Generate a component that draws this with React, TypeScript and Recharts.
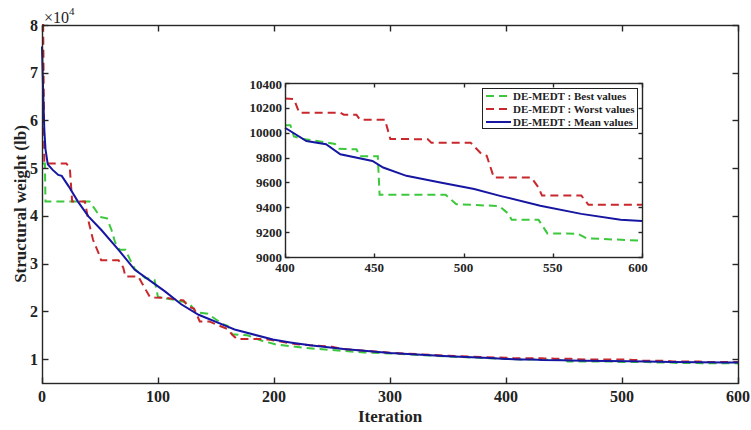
import { LineChart, Line, XAxis, YAxis, Legend } from 'recharts';

// iteration / structural weight (lb) pairs
const bestRows = [
  [0, 51000], [2.5, 51000], [3, 43000], [41, 43000], [46, 41300], [50, 39800], [56, 39500],
  [60, 37000], [63, 34500], [67, 32900], [72, 32900], [76, 30800], [80, 28900], [89, 27000],
  [97, 26600], [100, 23000], [115, 22400], [127, 21700], [133, 19800], [143, 19500],
  [156, 17300], [160, 17000], [164, 15200], [177, 15000], [189, 13900], [201, 13100],
  [225, 12400], [250, 11900], [278, 11400], [300, 11200], [350, 10550],
  [400, 10060], [403, 10060], [405, 9970], [410, 9950], [428, 9910], [430, 9870], [440, 9867],
  [442, 9810], [452, 9810], [453, 9500], [490, 9500], [496, 9425], [520, 9410], [525, 9350],
  [527, 9300], [542, 9300], [547, 9190], [564, 9187], [569, 9150], [598, 9133], [600, 9110],
];

const worstRows = [
  [0, 80000], [1, 80000], [2, 51000], [21, 51000], [24, 50000], [26, 43000], [37, 43000],
  [40, 39000], [44, 35000], [50, 31500], [51, 30700], [66, 30700], [70, 29200], [72, 27300],
  [83, 27300], [86, 26000], [93, 23000], [97, 22900], [108, 22800], [122, 22300], [126, 21000],
  [131, 20600], [134, 19000], [136, 17900], [144, 17900], [160, 16300], [164, 15100],
  [168, 14200], [188, 14200], [195, 14100], [220, 13100], [244, 12700], [250, 12600],
  [260, 12100], [300, 11350], [350, 10700],
  [400, 10275], [405, 10270], [408, 10160], [431, 10160], [433, 10145], [440, 10145],
  [442, 10105], [456, 10105], [459, 9950], [480, 9947], [482, 9920], [504, 9920], [510, 9830],
  [513, 9815], [517, 9640], [538, 9640], [542, 9560], [544, 9494], [566, 9494], [570, 9420],
  [600, 9420],
];

const meanRows = [
  [0, 75500], [1, 66000], [2, 58000], [3, 54000], [5, 50800], [9, 49700], [14, 48600],
  [17, 48400], [23, 46200], [31, 43000], [40, 39900], [51, 37100], [66, 32900], [80, 28700],
  [94, 26300], [106, 24200], [120, 21500], [135, 19300], [159, 16900], [166, 16200],
  [199, 14100], [214, 13500], [231, 12900], [260, 12100], [300, 11300], [350, 10600],
  [386, 10250], [400, 10040], [412, 9933], [423, 9907], [431, 9827], [449, 9773], [455, 9720],
  [468, 9653], [487, 9600], [506, 9547], [521, 9490], [543, 9413], [566, 9347], [588, 9300],
  [600, 9290],
];

const mainXTicks = [0, 100, 200, 300, 400, 500, 600];
const mainYTicks = [10000, 20000, 30000, 40000, 50000, 60000, 70000, 80000];
const insetXTicks = [400, 450, 500, 550, 600];
const insetYTicks = [9000, 9200, 9400, 9600, 9800, 10000, 10200, 10400];

const seriesNames = ['DE-MEDT : Best values', 'DE-MEDT : Worst values', 'DE-MEDT : Mean values'];

const toPoints = (rows: number[][]) => rows.map(([it, w]) => ({ it, w }));
const best = toPoints(bestRows);
const worst = toPoints(worstRows);
const mean = toPoints(meanRows);

const FONT = "'Liberation Serif', 'Times New Roman', serif";
const AXIS = '#262626';
const GREEN = '#3cc83c';
const RED = '#c8282c';
const BLUE = '#1616a2';
const DASH = '8 5';

const series = [
  { name: seriesNames[0], data: best, color: GREEN, dash: DASH },
  { name: seriesNames[1], data: worst, color: RED, dash: DASH },
  { name: seriesNames[2], data: mean, color: BLUE, dash: undefined },
];

const none = () => null;

const makeTick =
  (dx: number, dy: number, anchor: 'start' | 'middle' | 'end', size: number, fmt = (v: number) => String(v)) =>
  (p: any) => (
    <text x={p.x + dx} y={p.y + dy} textAnchor={anchor} fontFamily={FONT} fontSize={size} fontWeight={700} fill="#222">
      {fmt(p.payload.value)}
    </text>
  );

// tick text is placed relative to the axis edge (tickSize 0, tickMargin 0)
const mainXTick = makeTick(0, 19, 'middle', 16);
const mainYTick = makeTick(-4, 5.5, 'end', 16, (v) => String(v / 10000));
const insetXTick = makeTick(0, 15, 'middle', 13);
const insetYTick = makeTick(-3, 4.5, 'end', 13);

// box with inward tick marks, laid over a plot area (snapped to the pixel grid)
function PlotFrame({
  left, top, width, height, xDomain, yDomain, xTicks, yTicks, tick,
}: {
  left: number; top: number; width: number; height: number;
  xDomain: number[]; yDomain: number[]; xTicks: number[]; yTicks: number[]; tick: number;
}) {
  const px = (v: number) => Math.round(v) + 0.5;
  const sx = (v: number) => px(left + ((v - xDomain[0]) / (xDomain[1] - xDomain[0])) * width);
  const sy = (v: number) => px(top + height - ((v - yDomain[0]) / (yDomain[1] - yDomain[0])) * height);
  const l = px(left);
  const t = px(top);
  const r = px(left + width);
  const b = px(top + height);
  return (
    <svg
      width={left + width + 3}
      height={top + height + 3}
      style={{ position: 'absolute', left: 0, top: 0, pointerEvents: 'none' }}
    >
      <g stroke={AXIS} strokeWidth={1.4} fill="none">
        <rect x={l} y={t} width={r - l} height={b - t} />
        {xTicks.map((v) => (
          <g key={`x${v}`}>
            <line x1={sx(v)} y1={b} x2={sx(v)} y2={b - tick} />
            <line x1={sx(v)} y1={t} x2={sx(v)} y2={t + tick} />
          </g>
        ))}
        {yTicks.map((v) => (
          <g key={`y${v}`}>
            <line x1={l} y1={sy(v)} x2={l + tick} y2={sy(v)} />
            <line x1={r} y1={sy(v)} x2={r - tick} y2={sy(v)} />
          </g>
        ))}
      </g>
    </svg>
  );
}

const yTitle = () => (
  <text
    x={20}
    y={204}
    transform="rotate(-90 20 204)"
    textAnchor="middle"
    dominantBaseline="central"
    fontFamily={FONT}
    fontSize={17}
    fontWeight={700}
    fill="#222"
  >
    Structural weight (lb)
  </text>
);

const exponent = () => (
  <text x={44} y={23} fontFamily={FONT} fontSize={16} fill="#222">
    ×10
    <tspan dy={-8} fontSize={11}>
      4
    </tspan>
  </text>
);

const insetLegend = () => (
  <div
    style={{
      border: '1px solid #222',
      background: '#fff',
      padding: '0 2px',
      fontFamily: FONT,
      fontSize: 11,
      fontWeight: 700,
      color: '#222',
      boxSizing: 'border-box',
    }}
  >
    {series.map((s) => (
      <div key={s.name} style={{ display: 'flex', alignItems: 'center', height: 13, whiteSpace: 'nowrap' }}>
        <svg width={27} height={6} style={{ marginRight: 1 }}>
          <line x1={1} y1={3} x2={26} y2={3} stroke={s.color} strokeWidth={2} strokeDasharray={s.dash} />
        </svg>
        <span>{s.name}</span>
      </div>
    ))}
  </div>
);

export default function App() {
  return (
    <div style={{ position: 'absolute', left: 0, top: 0, width: 751, height: 430, background: '#fff' }}>
      <LineChart width={751} height={430} margin={{ top: 5, right: 1, bottom: 0, left: 0 }}>
        <XAxis
          xAxisId="b"
          type="number"
          dataKey="it"
          domain={[0, 600]}
          ticks={mainXTicks}
          height={47}
          axisLine={false}
          tickLine={false}
          tickSize={0}
          tickMargin={0}
          tick={mainXTick}
          label={{ value: 'Iteration', position: 'insideBottom', offset: 8, fontSize: 17, fontWeight: 700, fontFamily: FONT, fill: '#222' }}
        />
        <XAxis
          xAxisId="t"
          orientation="top"
          type="number"
          domain={[0, 600]}
          ticks={mainXTicks}
          height={20}
          axisLine={false}
          tickLine={false}
          tick={none}
          label={exponent}
        />
        <YAxis
          yAxisId="l"
          type="number"
          domain={[5000, 80000]}
          ticks={mainYTicks}
          width={42}
          axisLine={false}
          tickLine={false}
          tickSize={0}
          tickMargin={0}
          tick={mainYTick}
          label={yTitle}
        />
        <YAxis
          yAxisId="r"
          orientation="right"
          type="number"
          domain={[5000, 80000]}
          ticks={mainYTicks}
          width={12}
          axisLine={false}
          tickLine={false}
          tick={none}
        />
        {series.map((s) => (
          <Line
            key={s.name}
            xAxisId="b"
            yAxisId="l"
            data={s.data}
            dataKey="w"
            name={s.name}
            type="linear"
            stroke={s.color}
            strokeWidth={2}
            strokeDasharray={s.dash}
            dot={false}
            activeDot={false}
            isAnimationActive={false}
          />
        ))}
      </LineChart>
      <PlotFrame
        left={42} top={25} width={696} height={358}
        xDomain={[0, 600]} yDomain={[5000, 80000]}
        xTicks={mainXTicks} yTicks={mainYTicks} tick={6}
      />

      {/* zoomed view of the last 200 iterations */}
      <div style={{ position: 'absolute', left: 240, top: 75 }}>
        <LineChart width={410} height={205} margin={{ top: 8, right: 8, bottom: 0, left: 0 }}>
          <XAxis
            xAxisId="b"
            type="number"
            dataKey="it"
            domain={[400, 600]}
            ticks={insetXTicks}
            height={23}
            axisLine={false}
            tickLine={false}
            tickSize={0}
            tickMargin={0}
            tick={insetXTick}
          />
          <YAxis
            yAxisId="l"
            type="number"
            domain={[9000, 10400]}
            ticks={insetYTicks}
            width={45}
            axisLine={false}
            tickLine={false}
            tickSize={0}
            tickMargin={0}
            tick={insetYTick}
          />
          {series.map((s) => (
            <Line
              key={s.name}
              xAxisId="b"
              yAxisId="l"
              data={s.data.filter((d) => d.it >= 400)}
              dataKey="w"
              name={s.name}
              type="linear"
              stroke={s.color}
              strokeWidth={2}
              strokeDasharray={s.dash}
              dot={false}
              activeDot={false}
              isAnimationActive={false}
            />
          ))}
          <Legend
            layout="horizontal"
            verticalAlign="middle"
            align="center"
            content={insetLegend}
            wrapperStyle={{ left: 242, top: 13, width: 156, height: 'auto' }}
          />
        </LineChart>
        <PlotFrame
          left={45} top={8} width={357} height={174}
          xDomain={[400, 600]} yDomain={[9000, 10400]}
          xTicks={insetXTicks} yTicks={insetYTicks} tick={4}
        />
      </div>
    </div>
  );
}
